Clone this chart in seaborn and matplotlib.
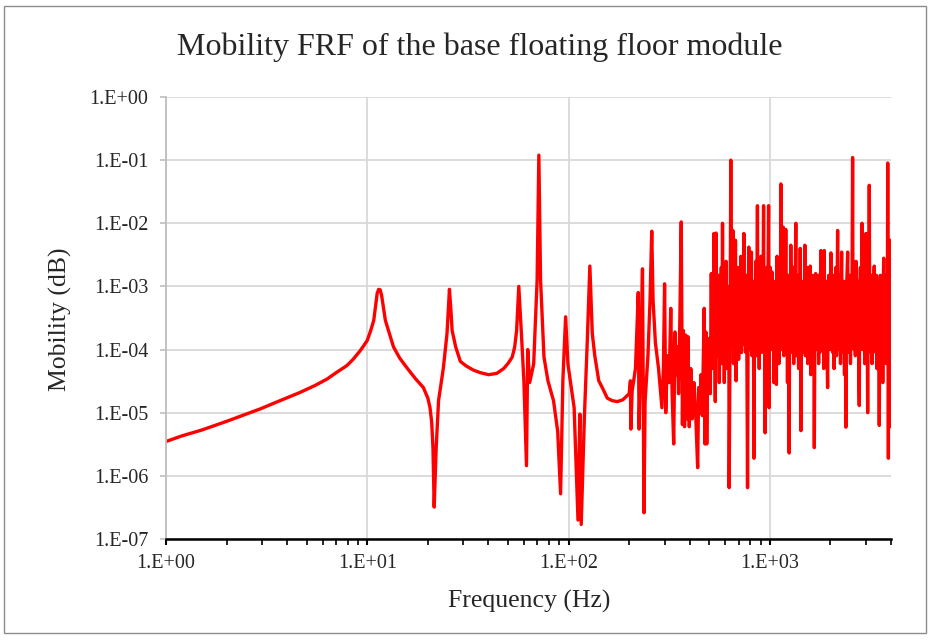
import numpy as np
import pandas as pd
import matplotlib
matplotlib.use("Agg")
import matplotlib.pyplot as plt
from matplotlib.ticker import FuncFormatter, LogLocator, NullFormatter
from matplotlib.patches import Rectangle
import seaborn as sns

# Valeurs (fréquence en Hz, mobilité)
freq_low = [1.0, 1.2, 1.5, 2.0, 2.5, 2.94, 3.5, 4.64, 5.5, 6.3, 7.0, 7.93, 8.5, 9.2, 9.6, 10.0,
            10.4, 10.77, 11.0, 11.2, 11.4, 11.6, 11.8, 12.3, 13.5, 14.5, 15.7, 17.3, 19.0, 20.0,
            20.5, 20.9, 21.2, 21.5, 22.0, 22.6, 23.9, 24.9, 25.6, 26.0, 26.4, 27.5, 29.0, 31.0,
            33.8, 36.5, 40.1, 44.0, 47.6, 50.0, 52.5, 54.0, 55.2, 56.6, 58.2, 60.0, 61.8, 62.7,
            64.1, 67.1, 69.8, 71.2, 72.6, 75.5, 79.0, 84.2, 88.3, 91.3, 93.7, 96.7, 99.3, 106.6,
            111.4, 113.8, 115.6, 120.0, 123.6, 127.6, 131.2, 135.0, 141.3, 148.0, 155.8, 165.0,
            175.0, 186.0, 196.7]
mob_low = [3.5e-6, 4.3e-6, 5.3e-6, 7.3e-6, 9.5e-6, 1.15e-5, 1.45e-5, 2.1e-5, 2.7e-5, 3.4e-5,
           4.3e-5, 5.6e-5, 7.0e-5, 9.5e-5, 1.15e-4, 1.4e-4, 2.0e-4, 2.9e-4, 5.0e-4, 7.8e-4,
           9.0e-4, 8.8e-4, 7.0e-4, 2.9e-4, 1.1e-4, 7.3e-5, 5.2e-5, 3.5e-5, 2.5e-5, 1.7e-5,
           1.2e-5, 7.0e-6, 2.8e-6, 3.2e-7, 2.8e-6, 1.55e-5, 5.2e-5, 1.8e-4, 9.0e-4, 4.5e-4,
           2.0e-4, 1.1e-4, 6.5e-5, 5.5e-5, 4.7e-5, 4.3e-5, 4.0e-5, 4.2e-5, 5.0e-5, 6.0e-5,
           7.6e-5, 1.1e-4, 2.0e-4, 1.0e-3, 2.0e-4, 3.2e-5, 1.45e-6, 1.0e-4, 3.0e-5, 5.9e-5,
           1.26e-3, 0.12, 1.26e-3, 7.6e-5, 3.2e-5, 1.55e-5, 5.1e-6, 5.2e-7, 3.2e-5, 3.3e-4,
           5.9e-5, 1.2e-5, 2.0e-7, 9.5e-6, 1.7e-7, 9.5e-6, 1.1e-4, 2.1e-3, 1.8e-4, 8.0e-5,
           3.2e-5, 2.4e-5, 1.7e-5, 1.55e-5, 1.5e-5, 1.6e-5, 1.9e-5]

freq_mid = [200, 203, 204, 207, 215, 222, 224, 228, 233, 235, 237, 240, 248, 254, 259, 263,
            270, 280, 291, 296, 300, 304, 310, 316, 322, 327, 333, 338, 343, 348, 352, 357,
            363, 368, 372, 377, 382, 387, 392, 398, 405, 412, 420, 428, 438, 443, 448, 455,
            462, 472, 476, 481, 486, 492, 500, 506, 512, 516]
mob_mid = [2.0e-5, 3.2e-5, 5.5e-6, 2.2e-5, 5.0e-5, 8.0e-4, 5.5e-6, 6.0e-5, 1.9e-3, 2.5e-5,
           2.6e-7, 1.5e-5, 8.0e-5, 6.0e-4, 7.5e-3, 6.0e-4, 1.3e-4, 5.0e-5, 1.2e-5, 5.0e-5,
           1.1e-3, 1.0e-5, 8.0e-5, 3.0e-5, 4.5e-4, 2.0e-5, 3.2e-6, 1.9e-4, 4.0e-5, 1.1e-4,
           2.0e-5, 2.5e-4, 1.05e-2, 6.5e-6, 2.0e-4, 6.0e-6, 1.7e-4, 8.0e-6, 1.6e-4, 6.0e-6,
           5.0e-5, 8.0e-6, 3.0e-5, 1.0e-5, 1.35e-6, 2.5e-5, 1.0e-5, 4.0e-5, 9.0e-6, 4.5e-4,
           3.2e-6, 1.9e-4, 3.2e-6, 8.0e-5, 1.5e-4, 2.0e-5, 1.6e-3, 5.0e-5]

freq_hi1 = [520, 524, 528, 532, 536, 541, 545, 549, 553, 557, 561, 566, 570, 574, 578, 582,
            586, 590, 594, 598, 602, 606, 610, 614, 618, 622, 626, 628, 634, 640, 645, 650,
            655, 660, 665, 670, 675, 680, 685, 690, 695, 700, 706, 712, 718, 724, 730, 736,
            743, 748, 754, 760, 766, 770, 775, 780, 786, 792, 798, 804, 810, 816, 822, 828,
            834, 840, 846, 852, 858, 868, 874, 880, 886, 892, 898, 904, 910, 916, 922, 931,
            936, 942, 948, 954, 960, 966, 972, 978, 986, 992, 998]
mob_hi1 = [1.6e-3, 9e-5, 6.9e-3, 2e-4, 1.5e-5, 7e-3, 1.2e-4, 6e-4, 8e-5, 1.5e-3, 3e-5, 5e-4,
           9e-5, 2e-3, 6e-5, 1.0e-2, 1.1e-4, 8e-4, 3e-5, 4e-4, 1.5e-4, 2.5e-3, 5e-5, 6e-4,
           1e-4, 1e-3, 8e-5, 6.5e-7, 1e-4, 0.1, 3e-4, 1.2e-4, 7.7e-3, 6e-5, 1.5e-3, 1e-4,
           5.4e-3, 3.2e-5, 9e-4, 1.5e-4, 2e-3, 7e-5, 6e-4, 1e-4, 3e-3, 9e-5, 1e-3, 1.2e-4,
           6.9e-3, 1.2e-4, 5e-4, 9e-5, 1.5e-3, 5e-5, 6.5e-7, 2e-4, 4.2e-3, 1e-4, 8e-4, 1.2e-4,
           3.5e-3, 8e-5, 2e-4, 1.2e-3, 1.9e-6, 6e-4, 1.5e-4, 2.5e-3, 8e-5, 0.019, 1e-4, 7e-4,
           5e-5, 1.2e-3, 1.5e-4, 3e-3, 9e-5, 8e-4, 1e-4, 0.019, 1.2e-4, 6e-4, 4.8e-6, 8e-4,
           1e-4, 2e-3, 8e-5, 9e-4, 0.019, 1.2e-5, 5e-4]

freq_hi2 = [1005, 1012, 1018, 1025, 1032, 1040, 1048, 1055, 1062, 1070, 1078, 1086, 1094,
            1102, 1110, 1118, 1126, 1135, 1142, 1150, 1158, 1166, 1174, 1182, 1190, 1200, 1208,
            1216, 1224, 1232, 1240, 1248, 1256, 1264, 1271, 1280, 1288, 1296, 1305, 1314, 1322,
            1330, 1346, 1354, 1362, 1370, 1380, 1390, 1400, 1410, 1416, 1427, 1436, 1446, 1456,
            1466, 1476, 1493, 1502, 1512, 1522, 1532, 1542, 1552, 1562, 1572, 1588, 1598, 1608,
            1618, 1630, 1640, 1652, 1664, 1676, 1688, 1700, 1712, 1724, 1736, 1748, 1760, 1772,
            1784, 1795, 1806, 1818, 1830, 1842, 1854, 1864, 1876, 1888, 1900, 1912, 1924, 1937,
            1950, 1962, 1975, 1988, 2000]
mob_hi2 = [2e-3, 1e-4, 8e-4, 1.7e-3, 1.2e-4, 8e-4, 3e-5, 1.2e-3, 9e-5, 1e-3, 2.8e-5, 3e-3,
           1.2e-4, 1.1e-3, 6e-5, 1.5e-3, 1e-4, 0.042, 1e-4, 1e-3, 1.1e-4, 8.7e-3, 8e-5, 1.2e-3,
           1e-4, 8e-3, 1e-4, 1e-3, 3e-5, 1.5e-3, 1.1e-4, 2.3e-6, 9e-4, 1e-4, 4.5e-3,
           1.2e-4, 1.1e-3, 9e-5, 2e-3, 6e-5, 1e-3, 1.1e-4, 0.01, 8e-5, 1.2e-3, 1e-4, 1.5e-3, 5e-5,
           1e-3, 1.2e-4, 4e-3, 5.2e-6, 8e-4, 1.2e-3, 1e-4, 1e-3, 9e-5, 4.5e-3, 8e-5, 1e-3, 1.1e-4,
           2e-3, 6e-5, 1.1e-3, 1e-4, 1.2e-3, 2.1e-3, 4e-5, 1e-3, 1e-4, 1.5e-3, 1e-4, 9e-4,
           2.8e-6, 6e-4, 1.6e-3, 1e-4, 1e-3, 1.2e-4, 1.5e-3, 6e-5, 1e-3, 9e-5, 1.2e-3, 3.7e-3,
           1.2e-4, 1.1e-3, 1e-4, 1.5e-3, 5e-5, 3.7e-3, 1.1e-4, 1e-3, 9e-5, 1.2e-3, 8e-5,
           2.5e-5, 8e-4, 1.5e-3, 1.1e-4, 1e-3, 1e-4]

freq_hi3 = [2011, 2024, 2040, 2055, 2070, 2085, 2100, 2115, 2130, 2145, 2160, 2172, 2186,
            2200, 2215, 2230, 2245, 2260, 2274, 2290, 2305, 2320, 2335, 2350, 2365, 2388, 2400,
            2418, 2436, 2452, 2468, 2484, 2500, 2516, 2532, 2548, 2562, 2578, 2592, 2608, 2624,
            2640, 2660, 2679, 2698, 2716, 2734, 2750, 2766, 2782, 2800, 2820, 2840, 2855, 2870,
            2888, 2906, 2924, 2942, 2960, 2980, 3005, 3020, 3040, 3063, 3080, 3100, 3120, 3140,
            3160, 3180, 3200, 3220, 3240, 3260, 3280, 3303, 3325, 3345, 3365, 3385, 3405, 3425,
            3450, 3475, 3498, 3520, 3540, 3560, 3580, 3600, 3620, 3640, 3660, 3680, 3700, 3720,
            3740, 3760, 3780, 3800, 3820, 3840, 3853, 3870, 3882, 3900, 3920, 3940, 3960, 3980,
            3990, 4000]
mob_hi3 = [3.4e-3, 1e-4, 1.1e-3, 9e-5, 1.5e-3, 5e-5, 1e-3, 1.1e-4, 2e-3, 8e-5, 9e-4, 7.7e-3,
           1.2e-4, 1.1e-3, 1e-4, 1.5e-3, 6e-5, 1e-3, 3.5e-3, 1.1e-4, 1.2e-3, 9e-5, 1.2e-3, 4e-5,
           1e-3, 5.9e-6, 8e-4, 1.5e-3, 3.5e-3, 1e-4, 1e-3, 9e-5, 1.5e-3, 6e-5, 1e-3, 1.1e-4,
           1.1e-3, 0.11, 1.2e-4, 1e-3, 1e-4, 1.2e-3, 8e-5, 2.5e-3, 1.1e-4, 1e-3, 9e-5, 1.2e-3,
           5e-5, 1.3e-5, 9e-4, 2e-3, 1.1e-4, 1.1e-3, 0.01, 1e-4, 1e-3, 1e-4, 1.5e-3, 6e-5,
           1e-3, 6.9e-3, 1.2e-4, 1e-3, 1e-5, 9e-4, 1e-4, 0.04, 1.2e-4, 1e-3, 9e-5, 1.5e-3,
           6e-5, 1e-3, 1.1e-4, 1.2e-3, 2.1e-3, 1e-4, 1e-3, 9e-5, 1.5e-3, 5e-5, 1e-3, 1.1e-4,
           1e-3, 6.3e-6, 8e-4, 1.5e-3, 1.1e-4, 1e-3, 1e-4, 1.2e-3, 3e-5, 1e-3, 2.8e-3, 1.2e-4,
           1.1e-3, 9e-5, 1.5e-3, 6e-5, 1e-3, 1.1e-4, 1e-3, 0.09, 1e-4, 1.9e-6, 8e-4, 1.5e-3,
           1e-4, 5.4e-3, 1.2e-4, 5e-3, 6e-6]

df = pd.DataFrame({
    "freq": freq_low + freq_mid + freq_hi1 + freq_hi2 + freq_hi3,
    "mob": mob_low + mob_mid + mob_hi1 + mob_hi2 + mob_hi3,
})

sns.set_theme(style="white")
plt.rcParams['font.family'] = ['Liberation Serif', 'DejaVu Serif']

fig = plt.figure(figsize=(9.41, 6.43), dpi=100)
ax = fig.add_axes([166 / 941, 1 - 539 / 643, (891 - 166) / 941, (539 - 97) / 643])

sns.lineplot(data=df, x="freq", y="mob", ax=ax, color="#ff0000", linewidth=2.4,
             estimator=None, sort=False)

ax.set_xscale("log")
ax.set_yscale("log")
ax.set_xlim(1, 4000)
ax.set_ylim(1e-7, 1)

fmt = FuncFormatter(lambda v, p: "1.E%+03d" % int(round(np.log10(v))))
ax.xaxis.set_major_locator(LogLocator(base=10, numticks=10))
ax.xaxis.set_minor_locator(LogLocator(base=10, subs=np.arange(2, 10), numticks=20))
ax.xaxis.set_major_formatter(fmt)
ax.xaxis.set_minor_formatter(NullFormatter())
ax.yaxis.set_major_locator(LogLocator(base=10, numticks=10))
ax.yaxis.set_minor_locator(LogLocator(base=10, subs=[], numticks=10))
ax.yaxis.set_major_formatter(fmt)

ax.grid(True, which="major", color="#d9d9d9", linewidth=1.3)
ax.set_axisbelow(True)

for s in ["top", "right"]:
    ax.spines[s].set_visible(False)
ax.spines["bottom"].set_color("black")
ax.spines["bottom"].set_linewidth(1.8)
ax.spines["left"].set_color("#bfbfbf")
ax.spines["left"].set_linewidth(1.3)

ax.tick_params(axis="x", which="major", direction="out", length=4.5, width=1.5,
               color="black", labelsize=14.5, pad=6, bottom=True)
ax.tick_params(axis="x", which="minor", direction="out", length=4, width=1.2,
               color="black", bottom=True)
ax.tick_params(axis="y", which="major", direction="out", length=4.3, width=1.2,
               color="#bfbfbf", labelsize=14.5, pad=8.5, left=True)
for lab in ax.get_xticklabels() + ax.get_yticklabels():
    lab.set_color("#262626")

ax.set_xlabel("")
ax.set_ylabel("")
fig.text(529 / 941, 1 - 601 / 643, "Frequency (Hz)", fontsize=18.5, color="#262626",
         ha="center", va="center")
fig.text(60 / 941, 1 - 319 / 643, "Mobility (dB)", fontsize=18.5, color="#262626",
         ha="center", va="center", rotation=90)
fig.text(480 / 941, 1 - 47 / 643, "Mobility FRF of the base floating floor module",
         fontsize=23, color="#262626", ha="center", va="center")

# cadre autour de la figure
fig.patches.append(Rectangle((4 / 941, 1 - 633 / 643), 922 / 941, 627 / 643,
                             transform=fig.transFigure, fill=False,
                             edgecolor="#8c8c8c", linewidth=1))

fig.savefig("out.png", dpi=100)
